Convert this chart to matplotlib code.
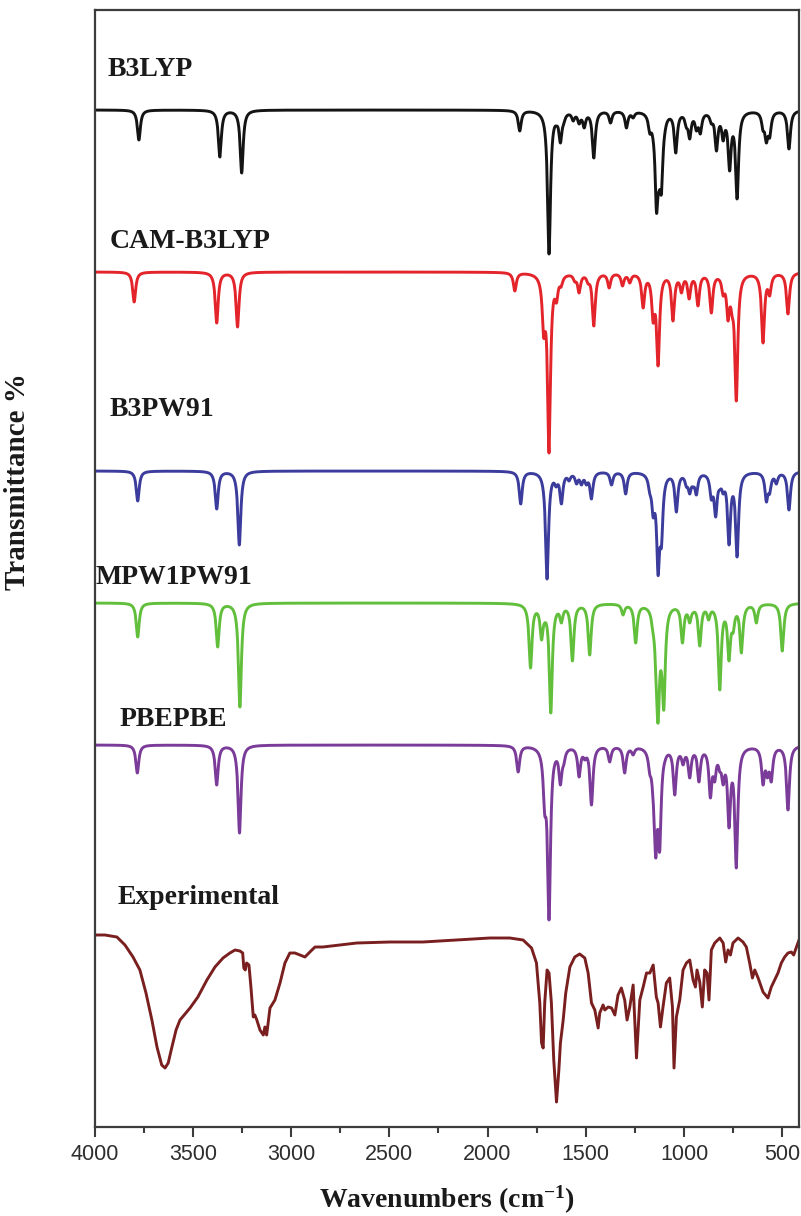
import numpy as np
import matplotlib
matplotlib.use("Agg")
import matplotlib.pyplot as plt
from matplotlib.ticker import MultipleLocator

# ---------------- data ----------------
# Calculated spectra: band position (cm-1) and band depth (arb. units, below baseline)
b3lyp_wn = [3774, 3362, 3251, 1836, 1687, 1649, 1629, 1612, 1564, 1534, 1508, 1459, 1374, 1293, 1259,
            1174, 1157, 1140, 1127, 1115, 1098, 1042, 988, 971, 937, 917, 861, 835, 801, 768, 730,
            598, 581, 564, 466]
b3lyp_dp = [30, 47, 63, 21, 144, 16, 33, 14, 11, 14, 18, 48, 13, 18, 8,
            24, 31, 103, 81, 84, 24, 43, 18, 29, 21, 24, 14, 41, 31, 61, 89,
            21, 33, 28, 39]

cam_wn = [3798, 3378, 3272, 1861, 1714, 1687, 1649, 1625, 1556, 1534, 1488, 1459, 1381, 1313, 1276,
          1208, 1157, 1132, 1056, 1013, 974, 929, 861, 801, 776, 755, 734, 598, 564, 471]
cam_dp = [30, 51, 55, 19, 66, 181, 31, 15, 10, 21, 12, 54, 16, 14, 11,
          36, 51, 94, 49, 21, 27, 34, 41, 24, 49, 45, 129, 71, 24, 42]

b3pw_wn = [3780, 3378, 3263, 1831, 1709, 1697, 1651, 1624, 1585, 1547, 1522, 1497, 1471, 1369, 1297,
           1174, 1157, 1141, 1132, 1115, 1039, 988, 971, 954, 937, 861, 839, 818, 801, 771, 730,
           581, 564, 530, 466]
b3pw_dp = [30, 38, 74, 33, 40, 108, 16, 33, 10, 13, 14, 14, 28, 14, 23,
           23, 46, 56, 103, 76, 41, 16, 23, 16, 24, 29, 46, 19, 23, 74, 86,
           31, 23, 13, 39]

mpw_wn = [3780, 3373, 3260, 1781, 1725, 1709, 1678, 1624, 1568, 1480, 1310, 1246, 1158, 1141, 1132,
          1115, 1103, 1008, 971, 954, 920, 875, 818, 771, 750, 708, 632, 500]
mpw_dp = [34, 44, 104, 65, 37, 20, 110, 20, 58, 52, 12, 40, 30, 87, 120,
          70, 107, 40, 20, 10, 43, 17, 87, 58, 30, 50, 20, 48]

pbe_wn = [3782, 3378, 3262, 1844, 1709, 1687, 1629, 1612, 1534, 1505, 1471, 1378, 1302, 1259,
          1174, 1157, 1144, 1124, 1098, 1047, 1005, 971, 924, 866, 844, 818, 801, 771, 734,
          598, 576, 556, 471]
pbe_dp = [28, 40, 88, 27, 70, 175, 40, 20, 32, 15, 60, 17, 28, 10,
          30, 57, 113, 107, 17, 50, 20, 33, 37, 53, 37, 27, 40, 83, 123,
          40, 33, 37, 65]

# Experimental spectrum: traced points (wavenumber, level relative to its baseline)
exp_wn = [3997, 3947, 3886, 3845, 3804, 3769, 3738, 3708, 3682, 3658, 3641, 3625, 3606, 3585, 3565,
          3531, 3514, 3474, 3428, 3387, 3346, 3311, 3285, 3260, 3246, 3240, 3233, 3226, 3214, 3204,
          3192, 3184, 3174, 3158, 3141, 3133, 3124, 3107, 3082, 3056, 3031, 3006, 2980, 2955, 2929,
          2904, 2878, 2838, 2665, 2497, 2329, 2156, 1988, 1887, 1819, 1776, 1751, 1734, 1725, 1717,
          1709, 1697, 1687, 1675, 1663, 1649, 1637, 1629, 1615, 1602, 1581, 1556, 1531, 1505, 1488,
          1471, 1454, 1437, 1429, 1412, 1403, 1386, 1369, 1352, 1336, 1319, 1302, 1290, 1276, 1259,
          1242, 1225, 1208, 1191, 1174, 1157, 1141, 1132, 1120, 1107, 1090, 1073, 1059, 1051, 1039,
          1022, 1005, 988, 971, 954, 942, 934, 920, 907, 895, 883, 873, 861, 844, 818,
          801, 788, 776, 764, 751, 725, 700, 683, 666, 652, 640, 623, 598, 573, 556,
          539, 522, 505, 488, 471, 454, 442, 428, 411]
exp_px = [935, 935, 937, 945, 957, 970, 993, 1020, 1047, 1065, 1068, 1063, 1047, 1030, 1020,
          1012, 1008, 997, 980, 967, 958, 953, 950, 951, 953, 968, 970, 963, 965, 987,
          1017, 1015, 1020, 1030, 1035, 1027, 1035, 1008, 1000, 983, 963, 953, 953, 955, 957,
          952, 947, 947, 943, 942, 942, 940, 938, 938, 940, 948, 963, 1003, 1043, 1048,
          1003, 970, 973, 1003, 1060, 1102, 1070, 1043, 1020, 993, 967, 957, 954, 958, 973,
          1003, 1010, 1028, 1013, 1005, 1010, 1007, 1008, 1015, 995, 988, 1000, 1020, 1007, 985,
          1058, 1000, 987, 973, 973, 965, 997, 1003, 1027, 1007, 983, 978, 1007, 1068, 1017,
          1000, 970, 963, 960, 980, 987, 970, 982, 1007, 970, 973, 1000, 950, 943, 938,
          943, 962, 950, 955, 943, 938, 942, 947, 963, 978, 970, 978, 992, 998, 987,
          980, 973, 963, 957, 953, 952, 955, 947, 938]
exp_level = [938 - v for v in exp_px]

series_names = ["B3LYP", "CAM-B3LYP", "B3PW91", "MPW1PW91", "PBEPBE"]
series_wn = [b3lyp_wn, cam_wn, b3pw_wn, mpw_wn, pbe_wn]
series_dp = [b3lyp_dp, cam_dp, b3pw_dp, mpw_dp, pbe_dp]
series_colors = ["#141414", "#e3242b", "#3b3c9c", "#62bf3c", "#7b3b98"]
series_offsets = [1017, 855, 656, 524, 382]
exp_offset = 189
exp_color = "#7a1f1f"

# ---------------- figure ----------------
W, H = 801, 1216
plt.rcParams["mathtext.default"] = "regular"
fig = plt.figure(figsize=(W / 100, H / 100), dpi=100)
ax = fig.add_axes([94.5 / W, 1 - 1127 / H, (799 - 94.5) / W, (1127 - 10) / H])

grid = np.linspace(400, 4000, 7201)
gamma = 9.0


def lorentz(x, c):
    return 1.0 / (1.0 + ((x - c) / gamma) ** 2)


for wn, dp, col, off in zip(series_wn, series_dp, series_colors, series_offsets):
    wn = np.asarray(wn, float)
    dp = np.asarray(dp, float)
    A = lorentz(wn[:, None], wn[None, :])
    amp = np.clip(np.linalg.solve(A, dp), 0.5, None)
    spec = off - (amp[None, :] * lorentz(grid[:, None], wn[None, :])).sum(axis=1)
    ax.plot(grid, spec, color=col, lw=2.1, solid_joinstyle="round")

ax.plot(exp_wn, np.asarray(exp_level) + exp_offset, color=exp_color, lw=2.1,
        solid_joinstyle="round")

ax.set_xlim(4000, 415)
ax.set_ylim(0, 1117)
ax.set_yticks([])
ax.xaxis.set_major_locator(MultipleLocator(500))
ax.xaxis.set_minor_locator(MultipleLocator(250))
spine_col = "#3c3c3c"
for s in ax.spines.values():
    s.set_color(spine_col)
    s.set_linewidth(1.6)
ax.tick_params(axis="x", which="major", direction="out", length=7, width=1.5,
               color=spine_col, labelsize=15.5, labelcolor="#2e2e2e", pad=5)
ax.tick_params(axis="x", which="minor", direction="out", length=4.5, width=1.5,
               color=spine_col)
for lab in ax.get_xticklabels():
    lab.set_fontfamily(["Liberation Sans", "DejaVu Sans"])

serif = ["Liberation Serif", "DejaVu Serif"]
labels_px = [(108, 70), (110, 242), (110, 410), (95, 578), (120, 719)]
for name, (px, py) in zip(series_names, labels_px):
    fig.text(px / W, 1 - py / H, name, fontsize=20, fontweight="bold",
             family=serif, color="#1a1a1a", ha="left", va="center")
fig.text(118 / W, 1 - 898 / H, "Experimental", fontsize=20, fontweight="bold",
         family=serif, color="#1a1a1a", ha="left", va="center")

fig.text(18 / W, 1 - 482 / H, "Transmittance %", rotation=90, fontsize=21,
         fontweight="bold", family=serif, color="#1a1a1a", ha="center", va="center")
fig.text(447 / W, 1 - 1200 / H, r"Wavenumbers (cm$^{-1}$)", fontsize=20,
         fontweight="bold", family=serif, color="#1a1a1a", ha="center", va="center")

fig.savefig("out.png", dpi=100)
